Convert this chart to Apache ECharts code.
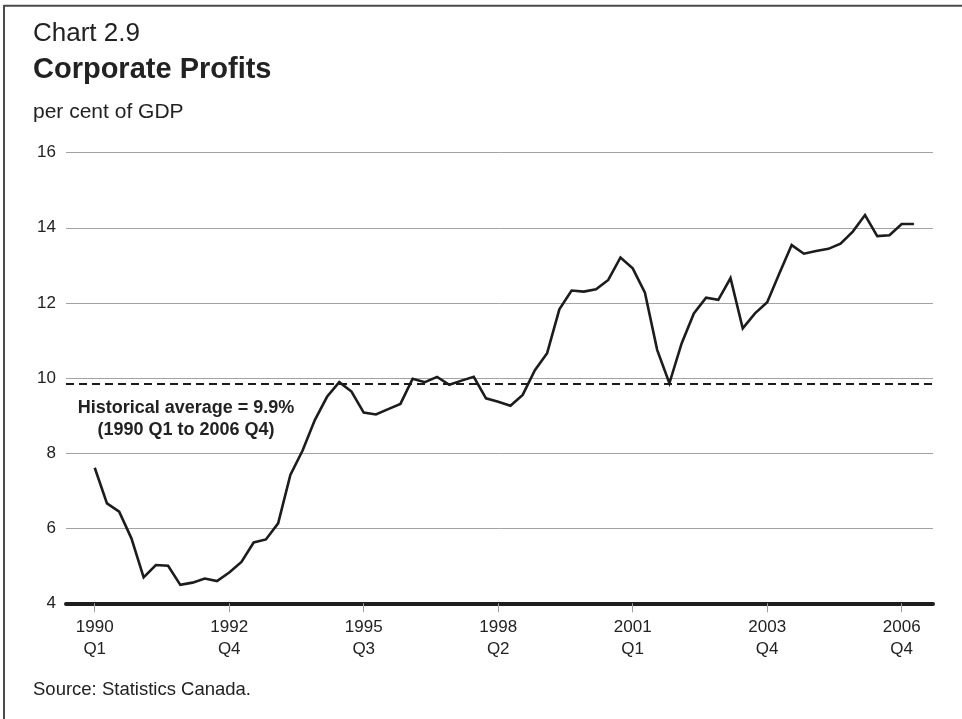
<!DOCTYPE html>
<html>
<head>
<meta charset="utf-8">
<script src="https://cdn.jsdelivr.net/npm/echarts@6/dist/echarts.min.js"></script>
<style>
html,body{margin:0;padding:0;background:#fff;}
#chart{width:962px;height:719px;}
</style>
</head>
<body>
<div id="chart"></div>
<script>
// Corporate profits, per cent of GDP, quarterly 1990 Q1 onward
var profits = [
  7.61, 6.66, 6.44, 5.73, 4.69, 5.02, 5.00, 4.49,
  4.55, 4.66, 4.59, 4.82, 5.10, 5.62, 5.70, 6.13,
  7.42, 8.07, 8.88, 9.50, 9.89, 9.64, 9.08, 9.03,
  9.17, 9.31, 9.98, 9.89, 10.03, 9.82, 9.93, 10.03,
  9.46, 9.37, 9.26, 9.55, 10.21, 10.66, 11.83, 12.33,
  12.30, 12.36, 12.61, 13.21, 12.92, 12.27, 10.75, 9.86,
  10.92, 11.72, 12.14, 12.08, 12.66, 11.32, 11.72, 12.02,
  12.79, 13.54, 13.31, 13.38, 13.44, 13.58, 13.90, 14.34,
  13.78, 13.80, 14.10, 14.10
];
var averageLevel = [9.85];
var tickIndices = [0, 11, 22, 33, 44, 55, 66];
var tickLabels = ['1990\nQ1', '1992\nQ4', '1995\nQ3', '1998\nQ2', '2001\nQ1', '2003\nQ4', '2006\nQ4'];
var yTicks = [4, 6, 8, 10, 12, 14, 16];

var FONT = '"Liberation Sans", Arial, Helvetica, sans-serif';
var seriesData = profits.map(function (v, i) { return [i, v]; });

var chart = echarts.init(document.getElementById('chart'), null, {renderer: 'canvas'});
chart.setOption({
  backgroundColor: '#ffffff',
  animation: false,
  grid: {left: 66, right: 29, top: 152.7, bottom: 115.7, containLabel: false},
  xAxis: {
    type: 'value',
    min: -2.35,
    max: 68.56,
    axisLine: {show: true, onZero: false, lineStyle: {color: '#1e1e1e', width: 4}},
    axisTick: {show: true, customValues: tickIndices, length: 9, inside: false,
      lineStyle: {color: '#a0a0a0', width: 1}},
    axisLabel: {
      show: true, customValues: tickIndices, margin: 13,
      fontFamily: FONT, fontSize: 17, color: '#222', lineHeight: 22, align: 'center',
      formatter: function (v) {
        var k = tickIndices.indexOf(Math.round(v));
        return k >= 0 ? tickLabels[k] : '';
      }
    },
    splitLine: {show: false}
  },
  yAxis: {
    type: 'value',
    min: yTicks[0],
    max: yTicks[yTicks.length - 1],
    interval: 2,
    axisLine: {show: false},
    axisTick: {show: false},
    axisLabel: {show: true, margin: 10, align: 'right', fontFamily: FONT, fontSize: 17, color: '#222'},
    splitLine: {show: true, lineStyle: {color: '#a3a3a3', width: 1}}
  },
  series: [{
    type: 'line',
    data: seriesData,
    showSymbol: false,
    symbol: 'none',
    lineStyle: {color: '#1c1c1c', width: 2.6, join: 'miter'},
    z: 5,
    markLine: {
      silent: true,
      symbol: ['none', 'none'],
      label: {show: false},
      lineStyle: {color: '#1c1c1c', width: 2, type: [8, 5]},
      data: [{yAxis: averageLevel[0]}]
    }
  }],
  graphic: [
    {type: 'line', shape: {x1: 4, y1: 5.7, x2: 962, y2: 5.7}, style: {stroke: '#4a4a4a', lineWidth: 2}},
    {type: 'line', shape: {x1: 4, y1: 5, x2: 4, y2: 719}, style: {stroke: '#4a4a4a', lineWidth: 2}},
    {type: 'text', left: 33, top: 21, style: {text: 'Chart 2.9', font: '26px ' + FONT, fill: '#222'}},
    {type: 'text', left: 33, top: 55, style: {text: 'Corporate Profits', font: 'bold 29px ' + FONT, fill: '#222'}},
    {type: 'text', left: 33, top: 102, style: {text: 'per cent of GDP', font: '21px ' + FONT, fill: '#222'}},
    {type: 'text', x: 186, y: 397, style: {text: 'Historical average = 9.9%\n(1990 Q1 to 2006 Q4)',
      font: 'bold 18px ' + FONT, fill: '#222', align: 'center', lineHeight: 22}},
    {type: 'text', left: 33, top: 680, style: {text: 'Source: Statistics Canada.', font: '18.5px ' + FONT, fill: '#222'}}
  ]
});
</script>
</body>
</html>
